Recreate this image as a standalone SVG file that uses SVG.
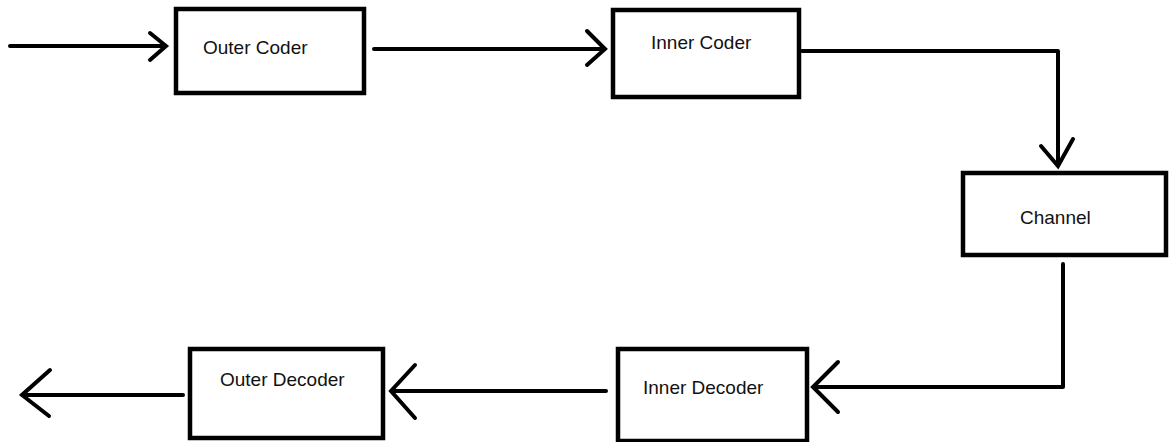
<svg xmlns="http://www.w3.org/2000/svg" width="1170" height="442" viewBox="0 0 1170 442">
  <style>
    .box { fill: #ffffff; stroke: #000000; stroke-width: 4.5; }
    .lbl { font-family: "Liberation Sans", Arial, sans-serif; font-size: 19px; fill: #111111; }
    .wire { fill: none; stroke: #000000; stroke-width: 4; stroke-linecap: round; stroke-linejoin: round; }
    .head { fill: none; stroke: #000000; stroke-width: 4; stroke-linecap: round; stroke-linejoin: miter; }
  </style>
  <rect width="1170" height="442" fill="#ffffff"/>

  <g id="connectors">
    <!-- input into outer coder -->
    <path class="wire" d="M10 46 H165"/>
    <path class="head" d="M150 33 L166 46 L150 60"/>
    <!-- outer coder to inner coder -->
    <path class="wire" d="M374 49 H604"/>
    <path class="head" d="M587 31 L605 49 L587 65"/>
    <!-- inner coder to channel -->
    <path class="wire" d="M802 51 H1058 V165"/>
    <path class="head" d="M1041 146 L1058 166 L1073 139"/>
    <!-- channel to inner decoder -->
    <path class="wire" d="M1063 264 V387 H814"/>
    <path class="head" d="M838 362 L813 387 L838 412"/>
    <!-- inner decoder to outer decoder -->
    <path class="wire" d="M606 391 H392"/>
    <path class="head" d="M415 365 L391 391 L415 418"/>
    <!-- output from outer decoder -->
    <path class="wire" d="M183 395 H23"/>
    <path class="head" d="M50 370 L22 395 L49 416"/>
  </g>

  <g id="outer-coder">
    <rect class="box" x="176" y="9" width="188" height="84"/>
    <text class="lbl" x="203" y="54">Outer Coder</text>
  </g>

  <g id="inner-coder">
    <rect class="box" x="613" y="10" width="186" height="87"/>
    <text class="lbl" x="651" y="49">Inner Coder</text>
  </g>

  <g id="channel">
    <rect class="box" x="963" y="173" width="203" height="82"/>
    <text class="lbl" x="1020" y="224">Channel</text>
  </g>

  <g id="inner-decoder">
    <rect class="box" x="618" y="349" width="189" height="92"/>
    <text class="lbl" x="643" y="394">Inner Decoder</text>
  </g>

  <g id="outer-decoder">
    <rect class="box" x="190" y="349" width="193" height="89"/>
    <text class="lbl" x="220" y="386">Outer Decoder</text>
  </g>
</svg>
